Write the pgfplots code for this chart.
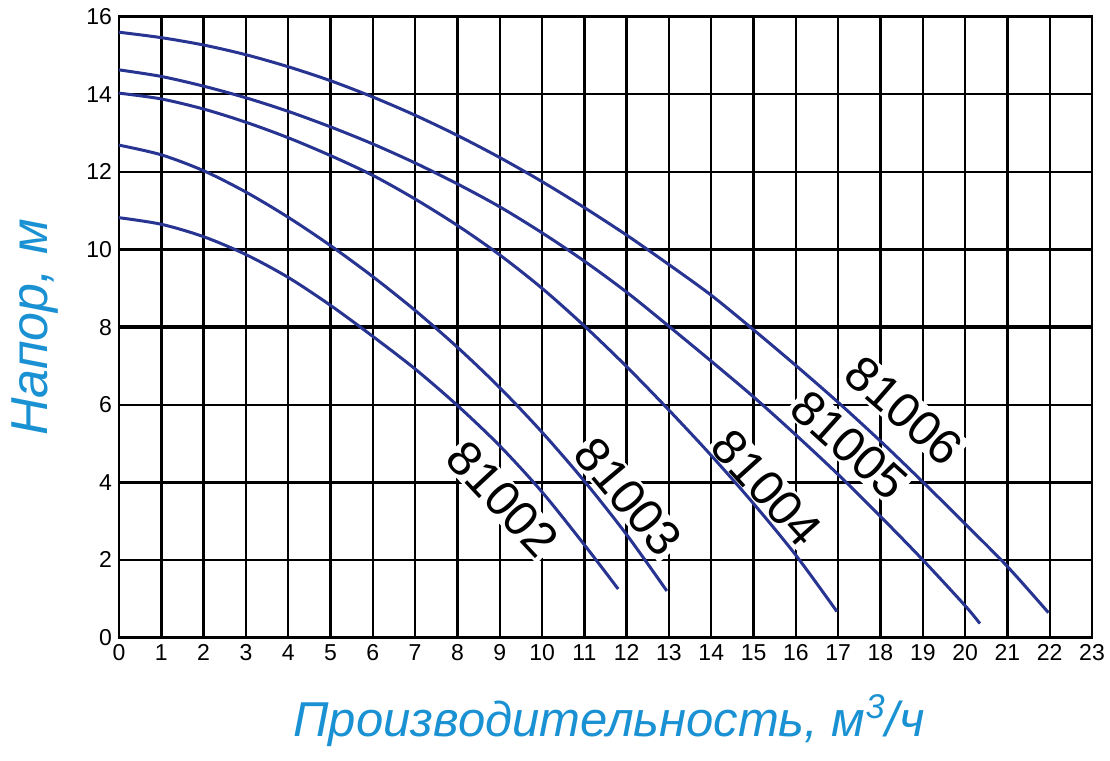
\documentclass[border=0pt]{standalone}
\usepackage{pgfplots}
\pgfplotsset{compat=1.18}
\usepackage{fontspec}
\setmainfont{Liberation Sans}
\definecolor{curve}{RGB}{40,52,145}
\definecolor{lbl}{RGB}{25,145,210}
\begin{document}
\begin{tikzpicture}
\begin{axis}[
  scale only axis, width=486.5pt, height=310.4pt,
  xmin=0, xmax=23, ymin=0, ymax=16,
  xtick={0,...,23}, ytick={0,2,...,16},
  grid=major, major grid style={black, line width=1.2pt},
  axis line style={black, line width=1.3pt},
  tick style={draw=none},
  tick label style={font=\fontsize{11.5}{13}\selectfont},
  /pgf/number format/assume math mode=true,
  xlabel={Производительность, м\textsuperscript{3}/ч},
  ylabel={Напор, м},
  xlabel style={at={(axis description cs:0.5036,-0.160)}, anchor=base, font=\fontsize{24.5}{28}\selectfont\itshape, text=lbl},
  ylabel style={at={(axis description cs:-0.073,0.5)}, anchor=base, font=\fontsize{26}{30}\selectfont\itshape, text=lbl},
]
\addplot[black, line width=1.8pt] coordinates {(0,8) (23,8)};
\node[rotate=-47, fill=white, inner sep=1pt, font=\fontsize{24.5}{25}\selectfont] at (axis cs:9.07,3.57) {81002};
\node[rotate=-50, fill=white, inner sep=1pt, font=\fontsize{24.5}{25}\selectfont] at (axis cs:12.04,3.63) {81003};
\node[rotate=-48, fill=white, inner sep=1pt, font=\fontsize{24.5}{25}\selectfont] at (axis cs:15.31,3.85) {81004};
\node[rotate=-42, fill=white, inner sep=1pt, font=\fontsize{24.5}{25}\selectfont] at (axis cs:17.26,4.96) {81005};
\node[rotate=-41, fill=white, inner sep=1pt, font=\fontsize{24.5}{25}\selectfont] at (axis cs:18.56,5.85) {81006};
% 81002
\addplot[curve, line width=1.5pt, smooth] coordinates {(0,10.82) (1,10.65) (2,10.33) (3,9.87) (4,9.28) (5,8.56) (6,7.76) (7,6.92) (8,5.98) (9,4.94) (10,3.75) (11,2.39) (11.8,1.25)};
% 81003
\addplot[curve, line width=1.5pt, smooth] coordinates {(0,12.69) (1,12.44) (2,12.03) (3,11.48) (4,10.83) (5,10.10) (6,9.30) (7,8.43) (8,7.48) (9,6.44) (10,5.29) (11,4.03) (12,2.65) (12.95,1.2)};
% 81004
\addplot[curve, line width=1.5pt, smooth] coordinates {(0,14.03) (1,13.88) (2,13.62) (3,13.28) (4,12.88) (5,12.42) (6,11.91) (7,11.30) (8,10.62) (9,9.86) (10,9.0) (11,8.03) (12,6.98) (13,5.86) (14,4.69) (15,3.45) (16,2.12) (16.97,0.67)};
% 81005
\addplot[curve, line width=1.5pt, smooth] coordinates {(0,14.63) (1,14.46) (2,14.21) (3,13.91) (4,13.56) (5,13.16) (6,12.72) (7,12.23) (8,11.69) (9,11.1) (10,10.43) (11,9.7) (12,8.9) (13,8.02) (14,7.12) (15,6.2) (16,5.22) (17,4.2) (18,3.12) (19,2.0) (20,0.82) (20.35,0.36)};
% 81006
\addplot[curve, line width=1.5pt, smooth] coordinates {(0,15.6) (1,15.46) (2,15.27) (3,15.02) (4,14.71) (5,14.35) (6,13.93) (7,13.46) (8,12.94) (9,12.37) (10,11.75) (11,11.08) (12,10.37) (13,9.61) (14,8.82) (15,7.93) (16,7.01) (17,6.06) (18,5.06) (19,4.01) (20,2.93) (21,1.83) (21.97,0.64)};
\coordinate (sw) at (rel axis cs:0,0);
\coordinate (ne) at (rel axis cs:1,1);
\end{axis}
\pgfresetboundingbox
\path ([shift={(-59.5pt,-61.25pt)}]sw) rectangle ([shift={(9pt,8.35pt)}]ne);
\end{tikzpicture}
\end{document}
